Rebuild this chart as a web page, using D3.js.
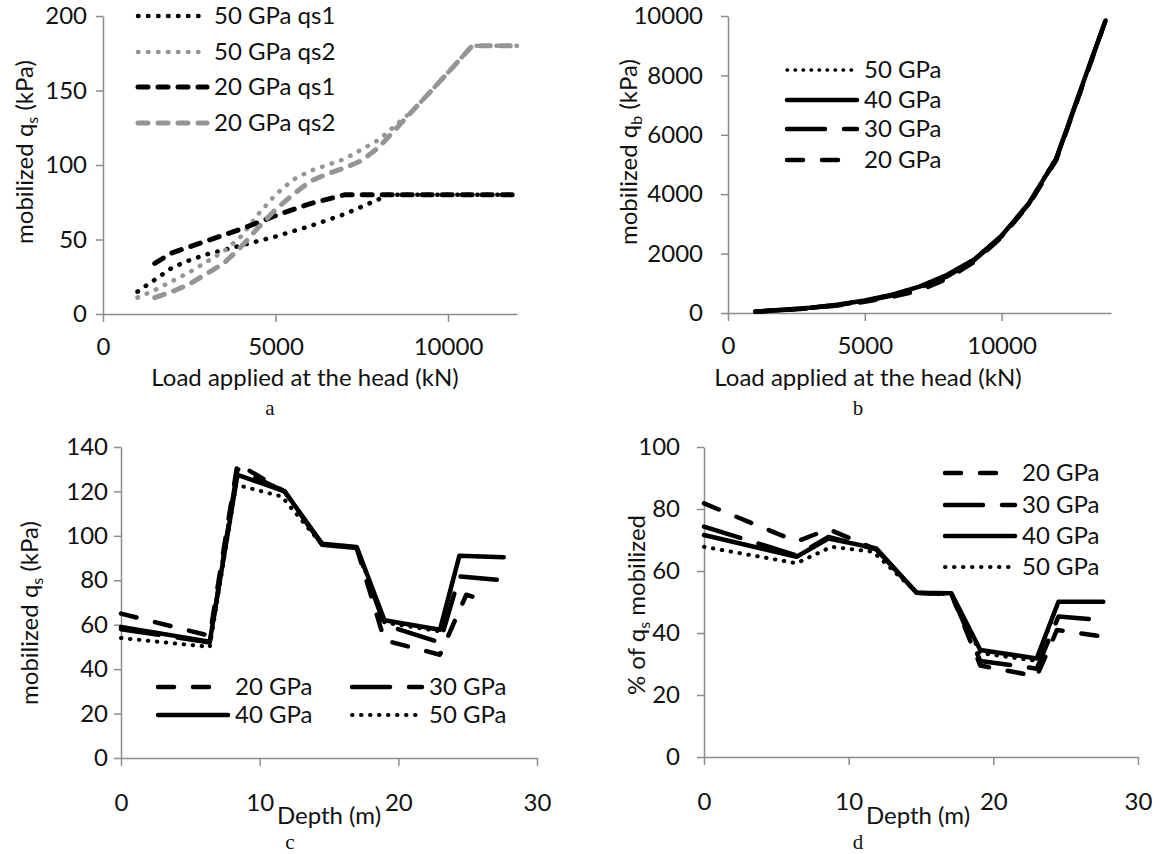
<!DOCTYPE html>
<html><head><meta charset="utf-8">
<script src="https://cdn.jsdelivr.net/npm/d3@7"></script>
<style>body{margin:0;background:#fff}</style>
</head><body><svg id="c" width="1160" height="854"></svg>
<script>
// ---------- Panel a: mobilized qs vs load ----------
const loadA_50qs1 = [1000,1500,2000,2500,3000,4000,5000,6000,7000,8000,8200,9000,10000,11000,12000];
const qsA_50qs1   = [15,23,31,36,40,46,52,59,67,77,80,80,80,80,80];
const loadA_50qs2 = [1000,1500,2000,2500,3000,3500,4000,4500,5000,5500,6000,7000,8000,9000,10000,10700,11000,12000];
const qsA_50qs2   = [11,16,22,28,35,42,52,67,80,90,96,104,117,137,162,180,180,180];
const loadA_20qs1 = [1500,2000,3000,4000,5000,6000,7000,8000,9000,10000,11000,12000];
const qsA_20qs1   = [34,41,49,57,66,74,80,80,80,80,80,80];
const loadA_20qs2 = [1500,2000,2500,3000,3500,4000,4500,5000,5500,6000,6500,7000,7500,8000,9000,10000,10700,11000,12000];
const qsA_20qs2   = [11,15,20,27,34,45,58,70,80,89,94,98,103,112,137,162,180,180,180];
const xTicksA = [0,5000,10000];
const yTicksA = [0,50,100,150,200];

// ---------- Panel b: mobilized qb vs load ----------
const loadB = [1000,2000,3000,4000,5000,6000,7000,8000,9000,10000,11000,12000,13000,13800];
const qbB_50 = [50,110,190,290,430,630,900,1290,1820,2620,3720,5250,7800,9850];
const qbB_40 = [50,110,180,280,420,620,890,1280,1800,2600,3700,5200,7800,9850];
const qbB_30 = [45,100,170,270,400,590,850,1230,1780,2580,3680,5200,7780,9850];
const qbB_20 = [40,95,160,250,380,540,760,1150,1720,2550,3650,5150,7750,9850];
const xTicksB = [0,5000,10000];
const yTicksB = [0,2000,4000,6000,8000,10000];

// ---------- Panel c: mobilized qs vs depth ----------
const depthC_20 = [0,6.4,8.4,11.8,14.5,17.0,19.0,23.0,24.9,26.2];
const qsC_20    = [65,55,132.5,120,96,94.5,53,46.5,73.5,71];
const depthC_30 = [0,6.4,8.4,11.8,14.5,17.0,19.0,23.0,24.4,27.1];
const qsC_30    = [58,52,130,120,96,94.5,60,52,81.7,80.2];
const depthC_40 = [0,6.4,8.4,11.8,14.5,17.0,19.0,23.0,24.4,27.6];
const qsC_40    = [59,52.4,127.5,120,96.5,95,62,57.7,91,90.4];
const depthC_50 = [0,6.4,8.3,11.6,14.5,17.0,19.0,23.0,24.4,27.6];
const qsC_50    = [54,50,123,117.7,96,94.5,61,57,91,90.4];
const xTicksC = [0,10,20,30];
const yTicksC = [0,20,40,60,80,100,120,140];

// ---------- Panel d: % of qs mobilized vs depth ----------
const depthD_20 = [0,6.4,8.6,11.9,14.7,17.1,19.1,23.0,24.4,27.6];
const pctD_20   = [81.8,69.5,73.5,67,53,52.5,29.5,26,41,38.8];
const depthD_30 = [0,6.4,8.6,11.9,14.7,17.1,19.1,23.0,24.5,26.6];
const pctD_30   = [74.3,65,71,67,53,52.5,31,28.5,45.3,44.5];
const depthD_40 = [0,6.4,8.6,11.9,14.7,17.1,19.1,23.0,24.5,27.6];
const pctD_40   = [71.6,64.6,70.5,67.3,53,52.8,34.5,31.8,50.1,50.1];
const depthD_50 = [0,6.4,8.8,11.7,14.7,17.1,19.1,23.0,24.5,27.6];
const pctD_50   = [67.8,62.5,67.8,66.2,53,52.5,33.5,31,50,50];
const xTicksD = [0,10,20,30];
const yTicksD = [0,20,40,60,80,100];

// ---------- styles ----------
const FONT = 'Lato, "Open Sans", sans-serif';
const FS = 24;
const AXIS = '#8c8c8c';
const GREY = '#959595';
const styles = {
  dotA:   {dash:'0.5 9.5', w:4.5, cap:'round'},
  dashA:  {dash:'10 10', w:5, cap:'round'},
  dot:    {dash:'0.5 8.5', w:4, cap:'round'},
  dash:   {dash:'16 19', w:4.5, cap:'round'},
  long:   {dash:'38 19', w:4.5, cap:'round'},
  solid:  {dash:null, w:4.5, cap:'round'}
};

const svg = d3.select('#c');

function applyStyle(sel, st, color) {
  sel.attr('fill','none').attr('stroke',color).attr('stroke-width',st.w)
     .attr('stroke-linecap',st.cap).attr('stroke-linejoin','round');
  if (st.dash) sel.attr('stroke-dasharray',st.dash);
}

function panel(o) {
  const x = d3.scaleLinear().domain(o.xd).range(o.xr);
  const y = d3.scaleLinear().domain(o.yd).range(o.yr);
  const g = svg.append('g');
  const xa = g.append('g').attr('transform',`translate(0,${o.yr[0]})`)
    .call(d3.axisBottom(x).tickValues(o.xt).tickSize(8).tickSizeOuter(0).tickPadding(o.xpad).tickFormat(d3.format('d')));
  const ya = g.append('g').attr('transform',`translate(${o.xr[0]},0)`)
    .call(d3.axisLeft(y).tickValues(o.yt).tickSize(7).tickSizeOuter(0).tickPadding(o.ypad).tickFormat(d3.format('d')));
  [xa,ya].forEach(a=>{
    a.attr('font-family',FONT).attr('font-size',FS);
    a.selectAll('path,line').attr('stroke',AXIS).attr('stroke-width',1.5);
    a.selectAll('text').attr('fill','#111');
  });
  const line = d3.line().x(d=>x(d[0])).y(d=>y(d[1]));
  o.series.forEach(s=>{
    const pts = s.xs.map((v,i)=>[v,s.ys[i]]);
    applyStyle(g.append('path').attr('d',line(pts)), s.st, s.color);
  });
  // legend
  o.series.forEach(s=>{
    const L = s.leg;
    applyStyle(g.append('line').attr('x1',L[0]).attr('x2',L[1]).attr('y1',L[2]).attr('y2',L[2]), s.st, s.color);
    g.append('text').attr('x',L[1]+7).attr('y',L[2]).attr('dy','0.35em')
      .attr('font-family',FONT).attr('font-size',FS).attr('fill','#111').text(s.name);
  });
  // y title (rotated)
  const yt = g.append('text').attr('transform',`translate(${o.ytitle[0]},${o.ytitle[1]}) rotate(-90)`)
    .attr('text-anchor','middle').attr('font-family',FONT).attr('font-size',FS).attr('fill','#111');
  yt.append('tspan').text(o.ytitleParts[0]);
  yt.append('tspan').attr('font-size',16).attr('dy',5).text(o.ytitleParts[1]);
  yt.append('tspan').attr('dy',-5).text(o.ytitleParts[2]);
  // x title
  g.append('text').attr('x',o.xtitle[0]).attr('y',o.xtitle[1]).attr('text-anchor','middle')
    .attr('dy','0.35em').attr('font-family',FONT).attr('font-size',FS).attr('fill','#111').text(o.xtitleText);
  // caption
  g.append('text').attr('x',o.cap[0]).attr('y',o.cap[1]).attr('text-anchor','middle')
    .attr('dy','0.35em').attr('font-family','"Liberation Serif", serif').attr('font-size',21).attr('fill','#111').text(o.capText);
}

panel({
  xd:[0,12000], xr:[103,517], yd:[0,200], yr:[314,16], xt:xTicksA, yt:yTicksA, xpad:16, ypad:9,
  series:[
    {name:'50 GPa qs1', xs:loadA_50qs1, ys:qsA_50qs1, st:styles.dotA, color:'#000', leg:[138,207,16]},
    {name:'50 GPa qs2', xs:loadA_50qs2, ys:qsA_50qs2, st:styles.dotA, color:GREY, leg:[138,207,52]},
    {name:'20 GPa qs1', xs:loadA_20qs1, ys:qsA_20qs1, st:styles.dashA, color:'#000', leg:[138,207,87]},
    {name:'20 GPa qs2', xs:loadA_20qs2, ys:qsA_20qs2, st:styles.dashA, color:GREY, leg:[138,207,123]}
  ],
  ytitle:[33,152], ytitleParts:['mobilized q','s',' (kPa)'],
  xtitle:[305,378], xtitleText:'Load applied at the head (kN)',
  cap:[270,408], capText:'a'
});

panel({
  xd:[0,14000], xr:[728,1111], yd:[0,10000], yr:[313,16], xt:xTicksB, yt:yTicksB, xpad:16, ypad:18,
  series:[
    {name:'20 GPa', xs:loadB, ys:qbB_20, st:styles.dash, color:'#000', leg:[787,857,160]},
    {name:'30 GPa', xs:loadB, ys:qbB_30, st:styles.long, color:'#000', leg:[787,857,129]},
    {name:'50 GPa', xs:loadB, ys:qbB_50, st:{dash:'0.5 7.5', w:3.5, cap:'round'}, color:'#000', leg:[787,857,70]},
    {name:'40 GPa', xs:loadB, ys:qbB_40, st:styles.solid, color:'#000', leg:[787,857,100]}
  ],
  ytitle:[637,152], ytitleParts:['mobilized q','b',' (kPa)'],
  xtitle:[868,378], xtitleText:'Load applied at the head (kN)',
  cap:[858,408], capText:'b'
});

panel({
  xd:[0,30], xr:[121,537], yd:[0,140], yr:[758,447], xt:xTicksC, yt:yTicksC, xpad:28, ypad:6,
  series:[
    {name:'20 GPa', xs:depthC_20, ys:qsC_20, st:styles.dash, color:'#000', leg:[158,228,687]},
    {name:'30 GPa', xs:depthC_30, ys:qsC_30, st:styles.long, color:'#000', leg:[352,422,687]},
    {name:'40 GPa', xs:depthC_40, ys:qsC_40, st:styles.solid, color:'#000', leg:[158,228,715]},
    {name:'50 GPa', xs:depthC_50, ys:qsC_50, st:styles.dot, color:'#000', leg:[352,422,715]}
  ],
  ytitle:[38,613], ytitleParts:['mobilized q','s',' (kPa)'],
  xtitle:[329,816], xtitleText:'Depth (m)',
  cap:[290,842], capText:'c'
});

panel({
  xd:[0,30], xr:[704,1138], yd:[0,100], yr:[757,447], xt:xTicksD, yt:yTicksD, xpad:28, ypad:17,
  series:[
    {name:'20 GPa', xs:depthD_20, ys:pctD_20, st:styles.dash, color:'#000', leg:[945,1015,473]},
    {name:'30 GPa', xs:depthD_30, ys:pctD_30, st:styles.long, color:'#000', leg:[945,1015,505]},
    {name:'40 GPa', xs:depthD_40, ys:pctD_40, st:styles.solid, color:'#000', leg:[945,1015,536]},
    {name:'50 GPa', xs:depthD_50, ys:pctD_50, st:styles.dot, color:'#000', leg:[945,1015,567]}
  ],
  ytitle:[645,605], ytitleParts:['% of q','s',' mobilized'],
  xtitle:[918,816], xtitleText:'Depth (m)',
  cap:[858,842], capText:'d'
});
</script>
</body></html>
